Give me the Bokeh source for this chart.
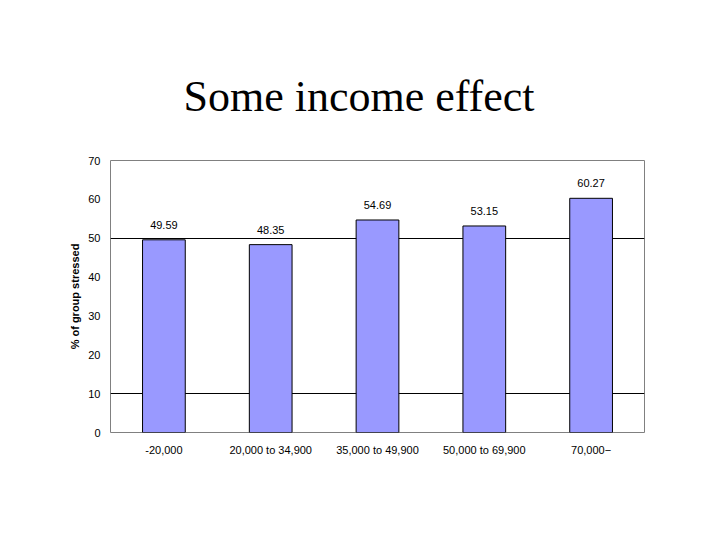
from bokeh.plotting import figure
from bokeh.models import ColumnDataSource, FixedTicker, LabelSet, FactorRange, Range1d
from bokeh.core.properties import value
from bokeh.embed import file_html
from bokeh.resources import INLINE

# data
categories = ["-20,000", "20,000 to 34,900", "35,000 to 49,900", "50,000 to 69,900", "70,000−"]
values = [49.59, 48.35, 54.69, 53.15, 60.27]
value_labels = ["49.59", "48.35", "54.69", "53.15", "60.27"]
y_ticks = [0, 10, 20, 30, 40, 50, 60, 70]
grid_ticks = [10, 50]
title_text = "Some income effect"
y_label = "% of group stressed"

src = ColumnDataSource(dict(cat=categories, val=values, lab=value_labels))

p = figure(width=704, height=524, x_range=FactorRange(*categories), y_range=Range1d(0, 70),
           output_backend="svg", toolbar_location=None, title=title_text,
           min_border_left=110, min_border_right=60, min_border_top=160, min_border_bottom=92)
p.background_fill_color = "white"
p.border_fill_color = "white"
p.outline_line_color = "#808080"
p.outline_line_width = 1

p.title.text_font = "Liberation Serif"
p.title.text_font_size = "44px"
p.title.text_font_style = "normal"
p.title.text_color = "black"
p.title.align = "left"
p.title.offset = 73
p.title.standoff = 80

p.vbar(x="cat", top="val", width=0.4, source=src, fill_color="#9999FF",
       line_color="black", line_width=1)

p.add_layout(LabelSet(x="cat", y="val", text="lab", source=src, text_align="center",
                      text_baseline="alphabetic", y_offset=11, text_font=value("Liberation Sans"),
                      text_font_size="11px", text_color="black"))

p.xgrid.grid_line_color = None
p.ygrid.ticker = FixedTicker(ticks=grid_ticks)
p.ygrid.grid_line_color = "black"
p.ygrid.grid_line_width = 1

p.yaxis.ticker = FixedTicker(ticks=y_ticks)
for ax in (p.xaxis[0], p.yaxis[0]):
    ax.axis_line_color = None
    ax.major_tick_line_color = None
    ax.minor_tick_line_color = None
    ax.major_tick_out = 0
    ax.major_tick_in = 0
    ax.major_label_text_font = "Liberation Sans"
    ax.major_label_text_font_size = "11px"
    ax.major_label_text_color = "black"
p.yaxis.major_label_standoff = 10
p.xaxis.major_label_standoff = 11
p.yaxis.axis_label = y_label
p.yaxis.axis_label_text_font = "Liberation Sans"
p.yaxis.axis_label_text_font_size = "11px"
p.yaxis.axis_label_text_font_style = "bold"
p.yaxis.axis_label_text_color = "black"
p.yaxis.axis_label_standoff = 4

open("out.html", "w").write(file_html(p, INLINE))
